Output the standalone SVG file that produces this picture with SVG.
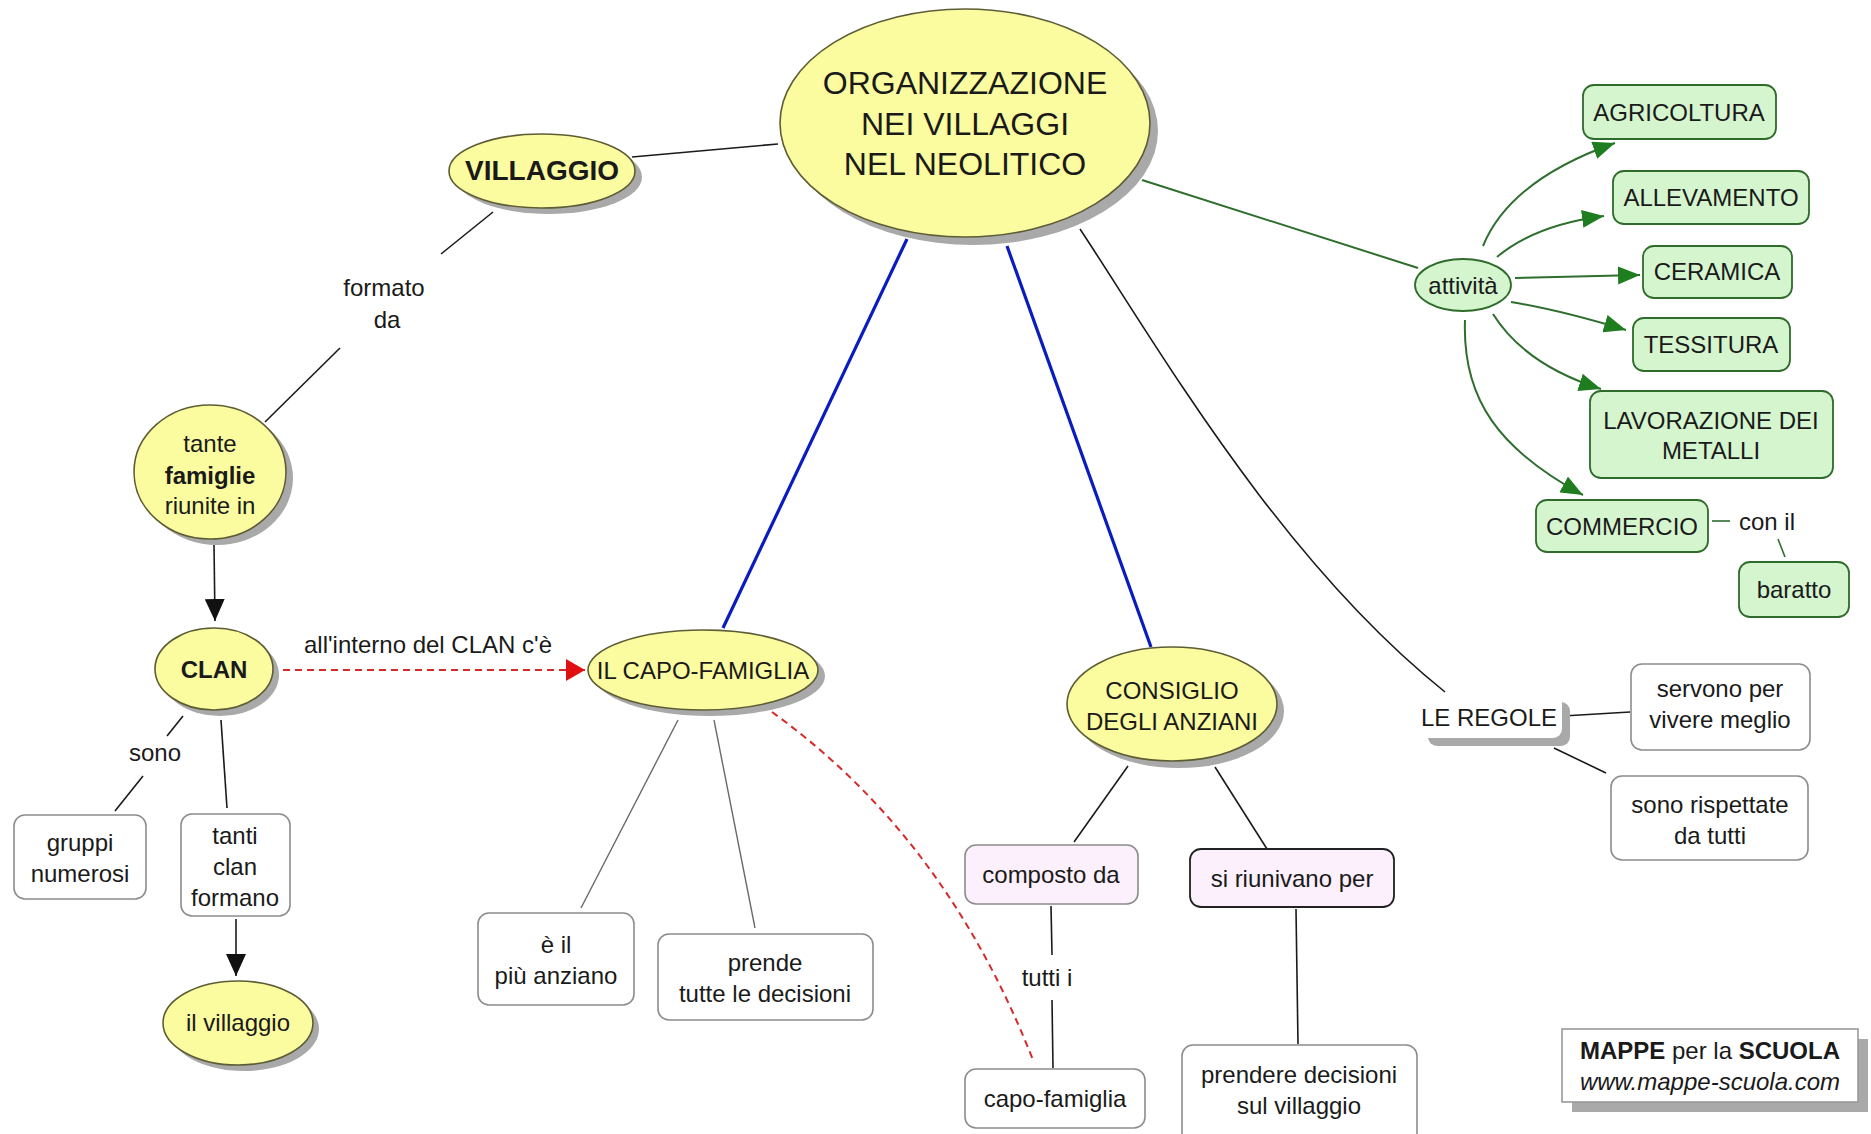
<svg xmlns="http://www.w3.org/2000/svg" width="1871" height="1134" viewBox="0 0 1871 1134">
<defs>
<style>
text{font-family:"Liberation Sans",Arial,sans-serif;font-size:24px;fill:#1a1a1a;text-anchor:middle;dominant-baseline:central}
.b{font-weight:bold}
.y{fill:#fbfb9f;stroke:#5d5d35;stroke-width:1.6}
.sh{fill:#a9a9a9}
.w{fill:#fff;stroke:#8c8c8c;stroke-width:1.6}
.g{fill:#d5f5cf;stroke:#2f6b2a;stroke-width:1.8}
.p{fill:#fcf0fc;stroke:#8c8c8c;stroke-width:1.6}
.pk{fill:#fcf0fc;stroke:#222;stroke-width:1.8}
.k{stroke:#1a1a1a;stroke-width:1.6;fill:none}
.gr{stroke:#6a6a6a;stroke-width:1.4;fill:none}
.bl{stroke:#0a1cbf;stroke-width:3.2;fill:none}
.gn{stroke:#2e6e2e;stroke-width:2;fill:none}
.rd{stroke:#d42a2a;stroke-width:2;stroke-dasharray:7 5;fill:none}
</style>
<marker id="ak" markerUnits="userSpaceOnUse" viewBox="0 0 22 20" refX="22" refY="10" markerWidth="22" markerHeight="20" orient="auto"><path d="M0,0 L22,10 L0,20 z" fill="#111"/></marker>
<marker id="ar" markerUnits="userSpaceOnUse" viewBox="0 0 19 22" refX="19" refY="11" markerWidth="19" markerHeight="22" orient="auto"><path d="M0,0 L19,11 L0,22 z" fill="#e01010"/></marker>
<marker id="ag" markerUnits="userSpaceOnUse" viewBox="0 0 22 18" refX="22" refY="9" markerWidth="22" markerHeight="18" orient="auto"><path d="M0,0 L22,9 L0,18 z" fill="#1e7d1e"/></marker>
</defs>
<rect width="1871" height="1134" fill="#fff"/>

<g id="connectors">
<line class="k" x1="632" y1="157" x2="778" y2="144"/>
<line class="k" x1="493" y1="212" x2="441" y2="254"/>
<line class="k" x1="340" y1="348" x2="265" y2="422"/>
<text x="384" y="287">formato</text>
<text x="387" y="319">da</text>
<line class="k" x1="214" y1="545" x2="215" y2="621" marker-end="url(#ak)"/>
<line class="rd" x1="283" y1="670" x2="585" y2="670" marker-end="url(#ar)"/>
<text x="428" y="644">all'interno del CLAN c'è</text>
<line class="bl" x1="907" y1="239" x2="723" y2="628"/>
<line class="bl" x1="1007" y1="246" x2="1151" y2="647"/>
<path class="k" d="M1080,229 C1160,350 1280,560 1445,692"/>
<line class="gn" x1="1142" y1="180" x2="1418" y2="268"/>
<path class="gn" d="M1483,246 Q1510,180 1615,143" marker-end="url(#ag)"/>
<path class="gn" d="M1497,257 Q1535,225 1604,216" marker-end="url(#ag)"/>
<path class="gn" d="M1515,278 L1640,275" marker-end="url(#ag)"/>
<path class="gn" d="M1511,302 Q1560,310 1626,330" marker-end="url(#ag)"/>
<path class="gn" d="M1493,314 Q1525,365 1601,389" marker-end="url(#ag)"/>
<path class="gn" d="M1465,320 C1462,400 1500,450 1583,495" marker-end="url(#ag)"/>
<line class="gn" x1="1712" y1="521" x2="1730" y2="521" style="stroke-width:1.6"/>
<text x="1767" y="521">con il</text>
<line class="gn" x1="1778" y1="539" x2="1785" y2="557" style="stroke-width:1.6"/>
<line class="k" x1="183" y1="716" x2="167" y2="736"/>
<text x="155" y="752">sono</text>
<line class="k" x1="143" y1="776" x2="115" y2="811"/>
<line class="k" x1="221" y1="720" x2="227" y2="808"/>
<line class="k" x1="236" y1="919" x2="236" y2="976" marker-end="url(#ak)"/>
<line class="gr" x1="678" y1="720" x2="581" y2="908"/>
<line class="gr" x1="714" y1="720" x2="755" y2="928"/>
<path class="rd" d="M772,712 C880,790 970,900 1033,1060"/>
<line class="k" x1="1128" y1="766" x2="1074" y2="842"/>
<line class="k" x1="1215" y1="767" x2="1267" y2="849"/>
<line class="k" x1="1051" y1="906" x2="1052" y2="955"/>
<text x="1047" y="977">tutti i</text>
<line class="k" x1="1052" y1="1000" x2="1053" y2="1068"/>
<line class="k" x1="1296" y1="909" x2="1298" y2="1044"/>
<line class="k" x1="1563" y1="716" x2="1630" y2="712"/>
<line class="k" x1="1554" y1="748" x2="1606" y2="773"/>
</g>

<g id="main">
<ellipse class="sh" cx="973" cy="131" rx="185" ry="114"/>
<ellipse class="y" cx="965" cy="123" rx="185" ry="114"/>
<text x="965" y="83" style="font-size:32px">ORGANIZZAZIONE</text>
<text x="965" y="124" style="font-size:32px">NEI VILLAGGI</text>
<text x="965" y="164" style="font-size:32px">NEL NEOLITICO</text>
</g>

<g id="villaggio">
<ellipse class="sh" cx="549" cy="177" rx="93" ry="37"/>
<ellipse class="y" cx="542" cy="171" rx="93" ry="37"/>
<text class="b" x="542" y="170" style="font-size:28px">VILLAGGIO</text>
</g>

<g id="famiglie">
<ellipse class="sh" cx="217" cy="478" rx="76" ry="67"/>
<ellipse class="y" cx="210" cy="472" rx="76" ry="67"/>
<text x="210" y="443">tante</text>
<text class="b" x="210" y="475">famiglie</text>
<text x="210" y="505">riunite in</text>
</g>

<g id="clan">
<ellipse class="sh" cx="220" cy="675" rx="59" ry="41"/>
<ellipse class="y" cx="214" cy="669" rx="59" ry="41"/>
<text class="b" x="214" y="669">CLAN</text>
</g>

<g id="capofamiglia">
<ellipse class="sh" cx="710" cy="676" rx="115" ry="40"/>
<ellipse class="y" cx="703" cy="670" rx="115" ry="40"/>
<text x="703" y="670">IL CAPO-FAMIGLIA</text>
</g>

<g id="consiglio">
<ellipse class="sh" cx="1179" cy="711" rx="105" ry="57"/>
<ellipse class="y" cx="1172" cy="704" rx="105" ry="57"/>
<text x="1172" y="690">CONSIGLIO</text>
<text x="1172" y="721">DEGLI ANZIANI</text>
</g>

<g id="gruppi">
<rect class="w" x="14" y="815" width="132" height="84" rx="11"/>
<text x="80" y="842">gruppi</text>
<text x="80" y="873">numerosi</text>
</g>

<g id="tanticlan">
<rect class="w" x="181" y="814" width="109" height="102" rx="11"/>
<text x="235" y="835">tanti</text>
<text x="235" y="866">clan</text>
<text x="235" y="897">formano</text>
</g>

<g id="ilvillaggio">
<ellipse class="sh" cx="244" cy="1029" rx="75" ry="42"/>
<ellipse class="y" cx="238" cy="1023" rx="75" ry="42"/>
<text x="238" y="1022">il villaggio</text>
</g>

<g id="anziano">
<rect class="w" x="478" y="913" width="156" height="92" rx="11"/>
<text x="556" y="944">è il</text>
<text x="556" y="975">più anziano</text>
</g>

<g id="prende">
<rect class="w" x="658" y="934" width="215" height="86" rx="11"/>
<text x="765" y="962">prende</text>
<text x="765" y="993">tutte le decisioni</text>
</g>

<g id="composto">
<rect class="p" x="965" y="845" width="173" height="59" rx="11"/>
<text x="1051" y="874">composto da</text>
</g>

<g id="riunivano">
<rect class="pk" x="1190" y="849" width="204" height="58" rx="11"/>
<text x="1292" y="878">si riunivano per</text>
</g>

<g id="capofam2">
<rect class="w" x="965" y="1069" width="180" height="59" rx="11"/>
<text x="1055" y="1098">capo-famiglia</text>
</g>

<g id="prendere">
<rect class="w" x="1182" y="1045" width="235" height="100" rx="11"/>
<text x="1299" y="1074">prendere decisioni</text>
<text x="1299" y="1105">sul villaggio</text>
</g>

<g id="regole">
<rect class="sh" x="1428" y="702" width="142" height="44" rx="9"/>
<rect x="1420" y="694" width="142" height="44" rx="9" fill="#fff"/>
<text x="1489" y="717">LE REGOLE</text>
</g>

<g id="servono">
<rect class="w" x="1631" y="664" width="179" height="86" rx="11"/>
<text x="1720" y="688">servono per</text>
<text x="1720" y="719">vivere meglio</text>
</g>

<g id="rispettate">
<rect class="w" x="1611" y="776" width="197" height="84" rx="11"/>
<text x="1710" y="804">sono rispettate</text>
<text x="1710" y="835">da tutti</text>
</g>

<g id="attivita">
<ellipse class="g" cx="1463" cy="285" rx="48" ry="26"/>
<text x="1463" y="285">attività</text>
</g>

<g id="agricoltura">
<rect class="g" x="1583" y="85" width="193" height="54" rx="11"/>
<text x="1679" y="112">AGRICOLTURA</text>
</g>
<g id="allevamento">
<rect class="g" x="1613" y="171" width="196" height="53" rx="11"/>
<text x="1711" y="197">ALLEVAMENTO</text>
</g>
<g id="ceramica">
<rect class="g" x="1643" y="246" width="149" height="52" rx="11"/>
<text x="1717" y="271">CERAMICA</text>
</g>
<g id="tessitura">
<rect class="g" x="1633" y="318" width="157" height="53" rx="11"/>
<text x="1711" y="344">TESSITURA</text>
</g>
<g id="lavorazione">
<rect class="g" x="1590" y="391" width="243" height="87" rx="11"/>
<text x="1711" y="420">LAVORAZIONE DEI</text>
<text x="1711" y="450">METALLI</text>
</g>
<g id="commercio">
<rect class="g" x="1536" y="500" width="172" height="52" rx="11"/>
<text x="1622" y="526">COMMERCIO</text>
</g>
<g id="baratto">
<rect class="g" x="1739" y="562" width="110" height="55" rx="11"/>
<text x="1794" y="589">baratto</text>
</g>

<g id="logo">
<rect class="sh" x="1572" y="1039" width="296" height="73"/>
<rect x="1562" y="1029" width="296" height="73" fill="#fff" stroke="#999" stroke-width="1.6"/>
<text x="1710" y="1050"><tspan class="b">MAPPE</tspan> per la <tspan class="b">SCUOLA</tspan></text>
<text x="1710" y="1081" style="font-style:italic">www.mappe-scuola.com</text>
</g>
</svg>
